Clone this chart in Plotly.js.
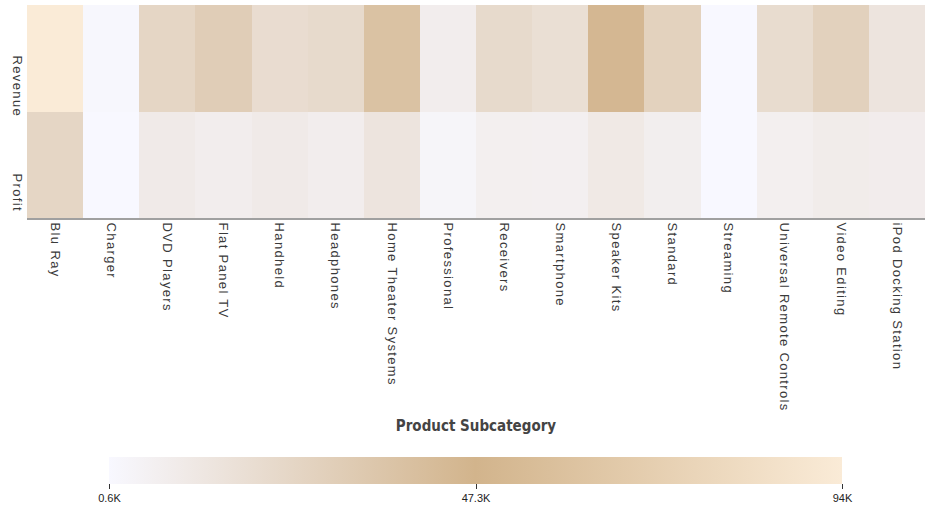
<!DOCTYPE html>
<html>
<head>
<meta charset="utf-8">
<script src="https://cdn.plot.ly/plotly-3.0.1.min.js"></script>
<style>
html,body{margin:0;padding:0;background:#fff;}
#chart{width:925px;height:505px;}
#chart .xtick text, #chart .ytick text{letter-spacing:1.35px;}
</style>
</head>
<body>
<div id="chart"></div>
<script>
const categories = ["Blu Ray","Charger","DVD Players","Flat Panel TV","Handheld","Headphones","Home Theater Systems","Professional","Receivers","Smartphone","Speaker Kits","Standard","Streaming","Universal Remote Controls","Video Editing","iPod Docking Station"];
const measures = ["Profit","Revenue"];
// values in thousands
const revenue = [94.0, 1.5, 24.0, 30.0, 19.5, 21.5, 38.0, 8.0, 21.5, 18.0, 45.0, 27.0, 0.6, 20.0, 27.5, 14.0];
const profit  = [24.0, 0.6, 10.0, 8.0, 10.0, 8.0, 14.0, 3.0, 7.0, 6.5, 11.0, 7.5, 0.6, 7.0, 9.0, 8.5];
const cbTickVals = [0.6, 47.3, 94.0];
const cbTickText = ["0.6K", "47.3K", "94K"];

const trace = {
  type: "heatmap",
  x: categories,
  y: measures,
  z: [profit, revenue],
  zmin: 0.6,
  zmax: 94.0,
  colorscale: [[0, "#f8f8ff"], [0.5, "#d2b48c"], [1, "#faebd7"]],
  xgap: 0, ygap: 0,
  hoverinfo: "x+y+z",
  colorbar: {
    orientation: "h",
    x: 0.5, xanchor: "center",
    y: -1.122, yanchor: "top",
    len: 0.816, lenmode: "fraction",
    thickness: 27,
    outlinewidth: 0,
    xpad: 0, ypad: 0,
    tickvals: cbTickVals,
    ticktext: cbTickText,
    ticks: "outside",
    ticklen: 5,
    tickcolor: "#333",
    tickfont: {family: "Liberation Sans, Arial, sans-serif", size: 11, color: "#222"}
  }
};

const layout = {
  width: 925, height: 505,
  margin: {l: 27, r: 0, t: 5, b: 287},
  paper_bgcolor: "#fff",
  plot_bgcolor: "#fff",
  xaxis: {
    type: "category",
    tickangle: 90,
    showgrid: false,
    zeroline: false,
    showline: true,
    linecolor: "#a0a0a0",
    linewidth: 2,
    ticks: "",
    tickfont: {family: "Liberation Sans, Arial, sans-serif", size: 13, color: "#3a3a3a"},
    title: {text: "Product Subcategory", standoff: 43,
            font: {family: "DejaVu Sans Condensed, Liberation Sans, sans-serif", size: 15, color: "#444", weight: "bold"}}
  },
  yaxis: {
    type: "category",
    tickangle: 90,
    ticklabelshift: 30,
    showgrid: false,
    zeroline: false,
    ticks: "",
    tickfont: {family: "Liberation Sans, Arial, sans-serif", size: 13, color: "#3a3a3a"}
  },
  showlegend: false
};

Plotly.newPlot("chart", [trace], layout, {displayModeBar: false, staticPlot: true});
</script>
</body>
</html>
